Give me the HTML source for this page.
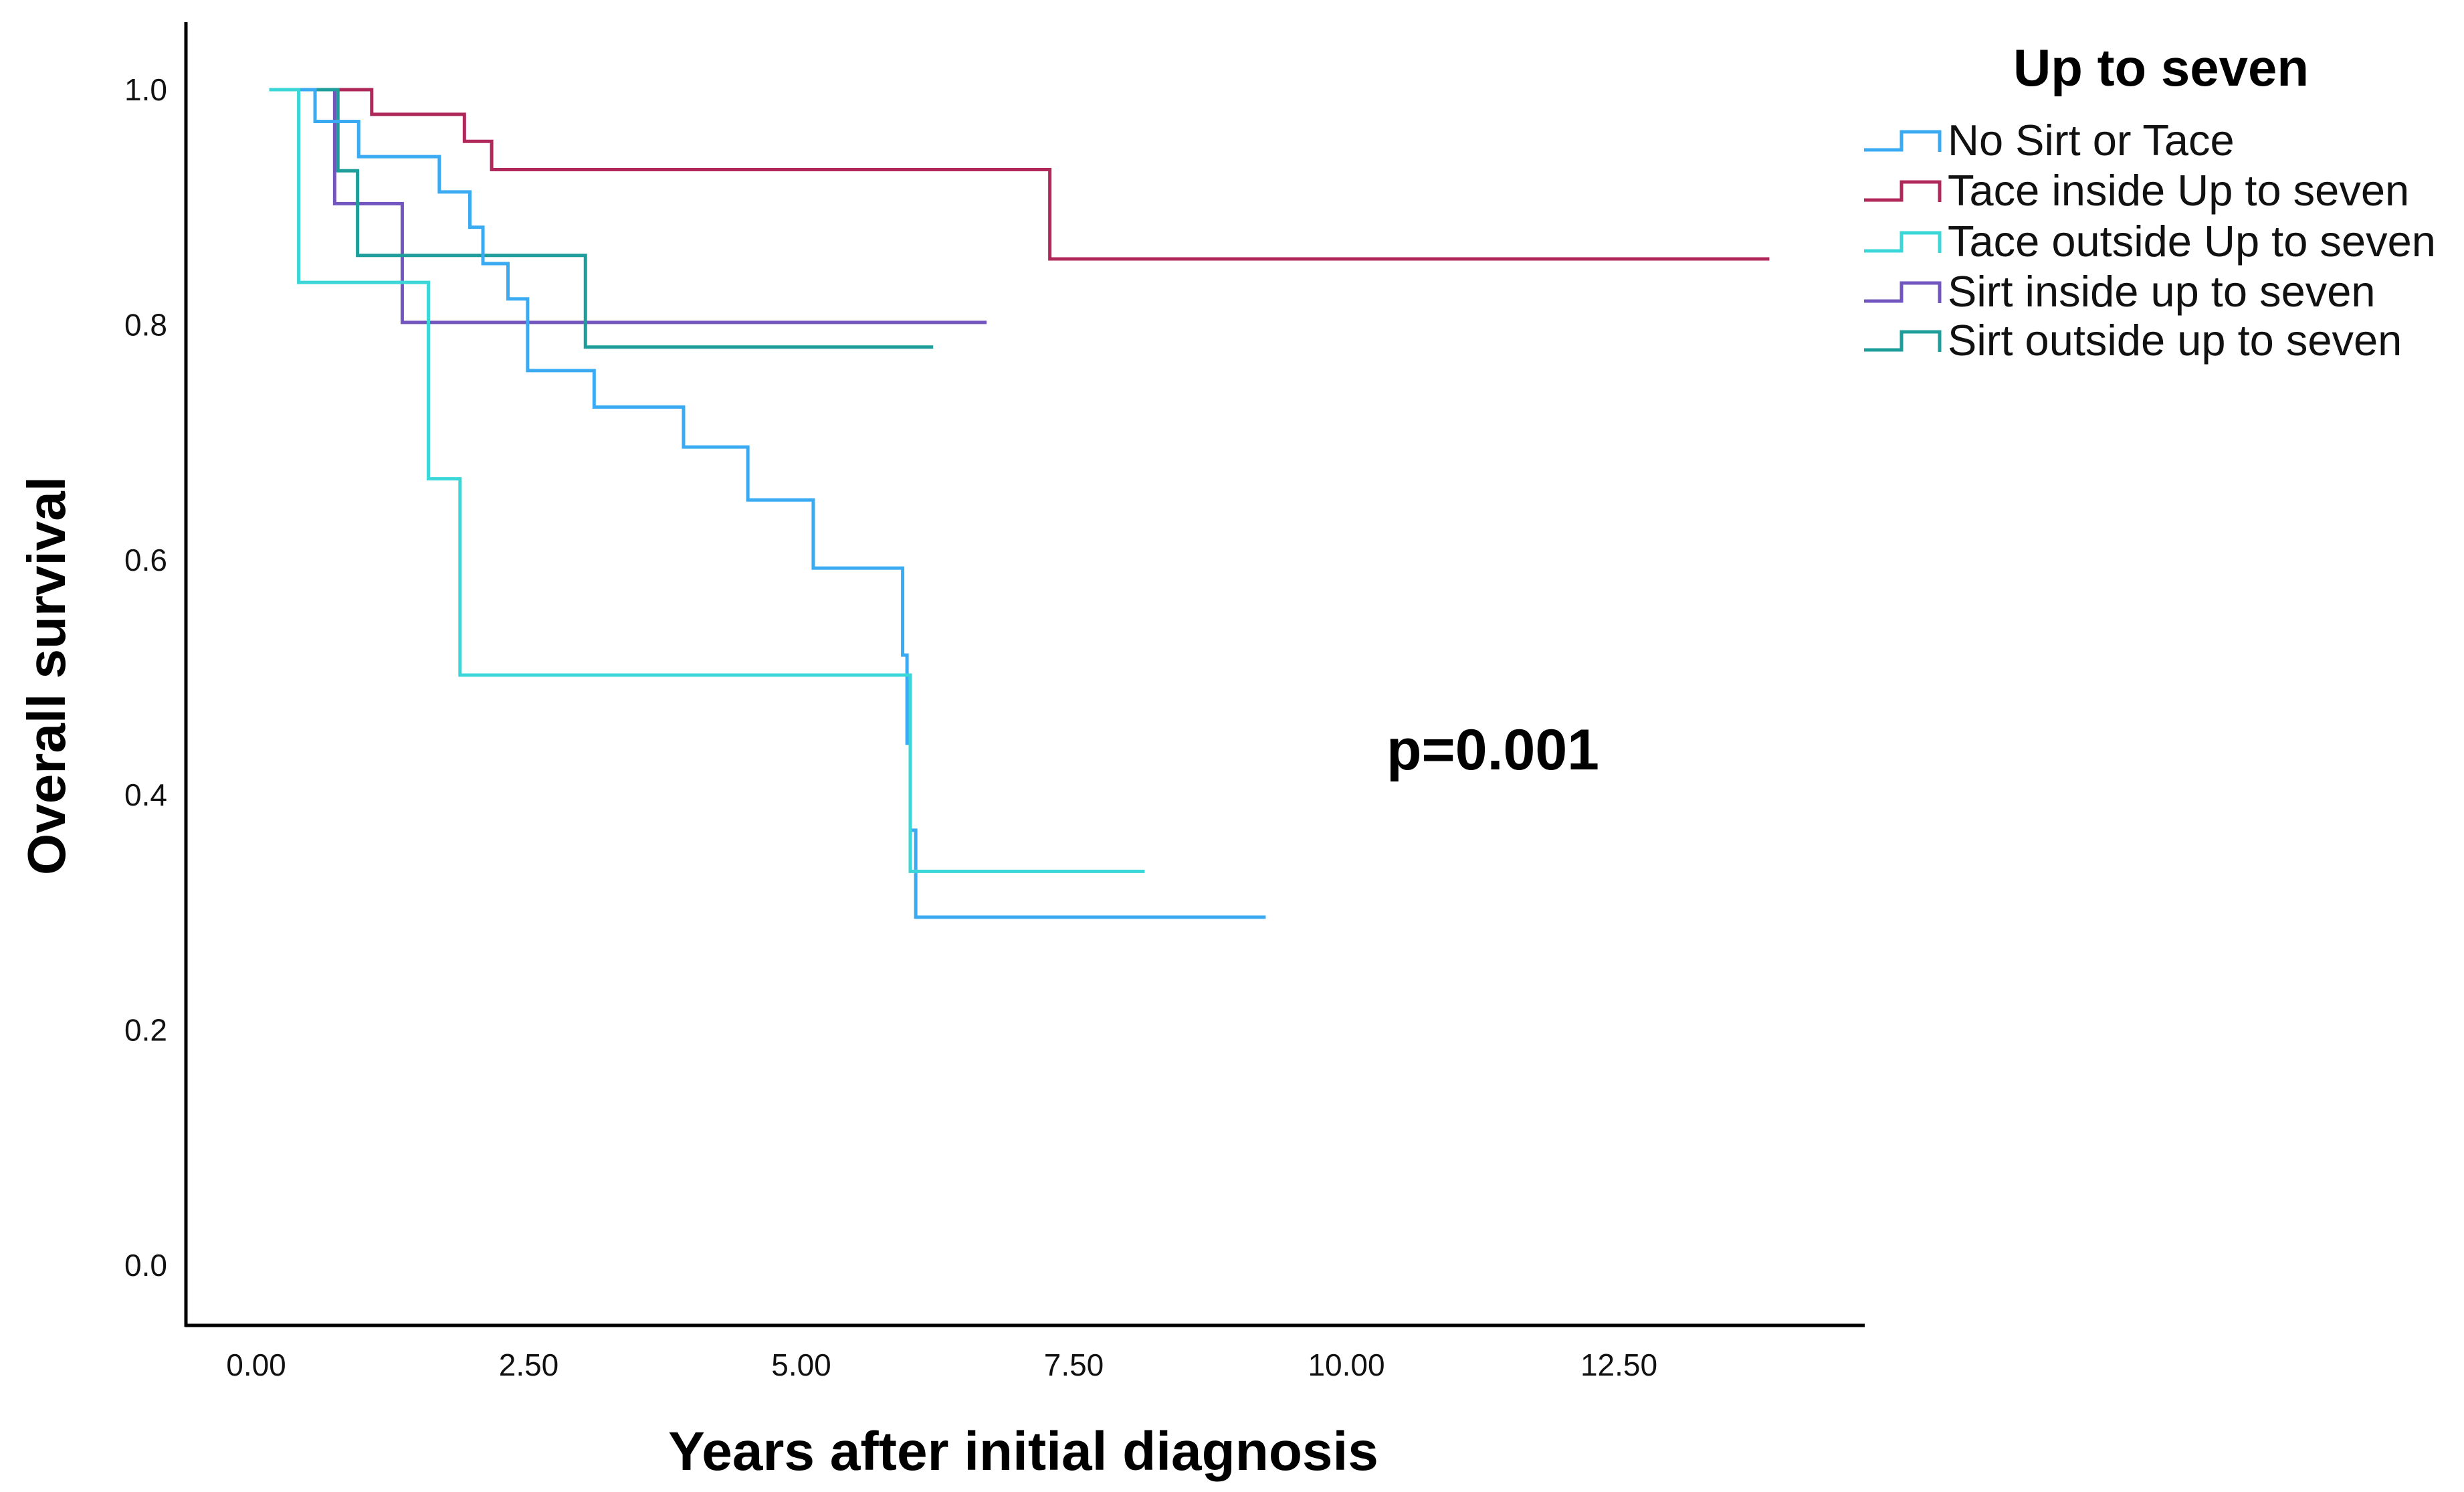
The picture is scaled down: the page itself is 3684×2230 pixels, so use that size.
<!DOCTYPE html>
<html><head><meta charset="utf-8"><style>
html,body{margin:0;padding:0;background:#fff;}
svg{display:block;font-family:"Liberation Sans",sans-serif;}
</style></head><body>
<svg id="chart" width="3684" height="2230" viewBox="0 0 3684 2230" xmlns="http://www.w3.org/2000/svg">
<g id="axes"></g>
<g id="curves"></g>
<g id="legend"></g>
<text x="2232" y="1150" font-size="86" font-weight="bold" text-anchor="middle">p=0.001</text>
<text x="1530" y="2197" font-size="82" font-weight="bold" text-anchor="middle">Years after initial diagnosis</text>
<text x="0" y="0" font-size="80" font-weight="bold" text-anchor="middle" transform="translate(97,1010) rotate(-90)">Overall survival</text>
</svg>
<script>
const seriesNames = ["No Sirt or Tace","Tace inside Up to seven","Tace outside Up to seven","Sirt inside up to seven","Sirt outside up to seven"];
const seriesColors = ["#3aaaf2","#b0285a","#3ad6d8","#7355c0","#1e9e9a"];
const noneTimes = [0.12,0.54,0.94,1.68,1.96,2.08,2.31,2.49,3.10,3.92,4.51,5.11,5.93,5.97,6.00,6.05];
const noneSurv  = [1,0.973,0.943,0.913,0.883,0.852,0.822,0.761,0.730,0.696,0.651,0.593,0.519,0.444,0.370,0.296];
const noneEnd = 9.26;
const taceInTimes = [0.12,1.06,1.91,2.16,7.28];
const taceInSurv  = [1,0.979,0.956,0.932,0.856];
const taceInEnd = 13.88;
const taceOutTimes = [0.12,0.39,1.58,1.87,6.00];
const taceOutSurv  = [1,0.836,0.669,0.502,0.335];
const taceOutEnd = 8.15;
const sirtInTimes = [0.12,0.72,1.34];
const sirtInSurv  = [1,0.903,0.802];
const sirtInEnd = 6.70;
const sirtOutTimes = [0.12,0.75,0.93,3.02];
const sirtOutSurv  = [1,0.931,0.859,0.781];
const sirtOutEnd = 6.21;
const xTicks = [0,2.5,5,7.5,10,12.5];
const xTickLabels = ["0.00","2.50","5.00","7.50","10.00","12.50"];
const yTicks = [0,0.2,0.4,0.6,0.8,1.0];
const yTickLabels = ["0.0","0.2","0.4","0.6","0.8","1.0"];

const NS="http://www.w3.org/2000/svg";
const xS = t => 383 + t*163;
const yS = s => 1891 - s*1757;
function mk(tag, attrs, parent){const e=document.createElementNS(NS,tag);for(const k in attrs)e.setAttribute(k,attrs[k]);parent.appendChild(e);return e;}

const axes=document.getElementById('axes');
const ya=mk('line',{x1:278,y1:33,x2:278,y2:1983,stroke:'#000','stroke-width':5},axes);


const xa=mk('line',{x1:276,y1:1981,x2:2788,y2:1981,stroke:'#000','stroke-width':5},axes);


yTicks.forEach((v,i)=>{
  const t=mk('text',{x:250,y:yS(v)+16,'font-size':46,'text-anchor':'end',fill:'#111'},axes);
  t.textContent=yTickLabels[i];
  
  
});
xTicks.forEach((v,i)=>{
  const t=mk('text',{x:xS(v),y:2056,'font-size':46,'text-anchor':'middle',fill:'#111'},axes);
  t.textContent=xTickLabels[i];
  
  
});

const curves=document.getElementById('curves');
const allT=[noneTimes,taceInTimes,taceOutTimes,sirtInTimes,sirtOutTimes];
const allS=[noneSurv,taceInSurv,taceOutSurv,sirtInSurv,sirtOutSurv];
const allE=[noneEnd,taceInEnd,taceOutEnd,sirtInEnd,sirtOutEnd];
const order=[1,3,4,0,2];
order.forEach(k=>{
  const T=allT[k],S=allS[k];
  let d='M'+xS(T[0])+','+yS(S[0]);
  for(let i=1;i<T.length;i++){d+=' H'+xS(T[i])+' V'+yS(S[i]);}
  d+=' H'+xS(allE[k]);
  const p=mk('path',{d:d,fill:'none',stroke:seriesColors[k],'stroke-width':5},curves);
  
  
});

const lg=document.getElementById('legend');
const lt=mk('text',{x:3231,y:128,'font-size':78,'font-weight':'bold','text-anchor':'middle'},lg);
lt.textContent='Up to seven';


const rowsY=[209,284,360,435,508];
seriesNames.forEach((n,i)=>{
  const y=rowsY[i];
  const g=mk('g',{},lg);
  
  
  mk('path',{d:`M2787,${y+15} H2843 V${y-12} H2900 V${y+18}`,fill:'none',stroke:seriesColors[i],'stroke-width':5},g);
  const t=mk('text',{x:2912,y:y+23,'font-size':65,fill:'#111'},g);
  t.textContent=n;
});
</script>
</body></html>
